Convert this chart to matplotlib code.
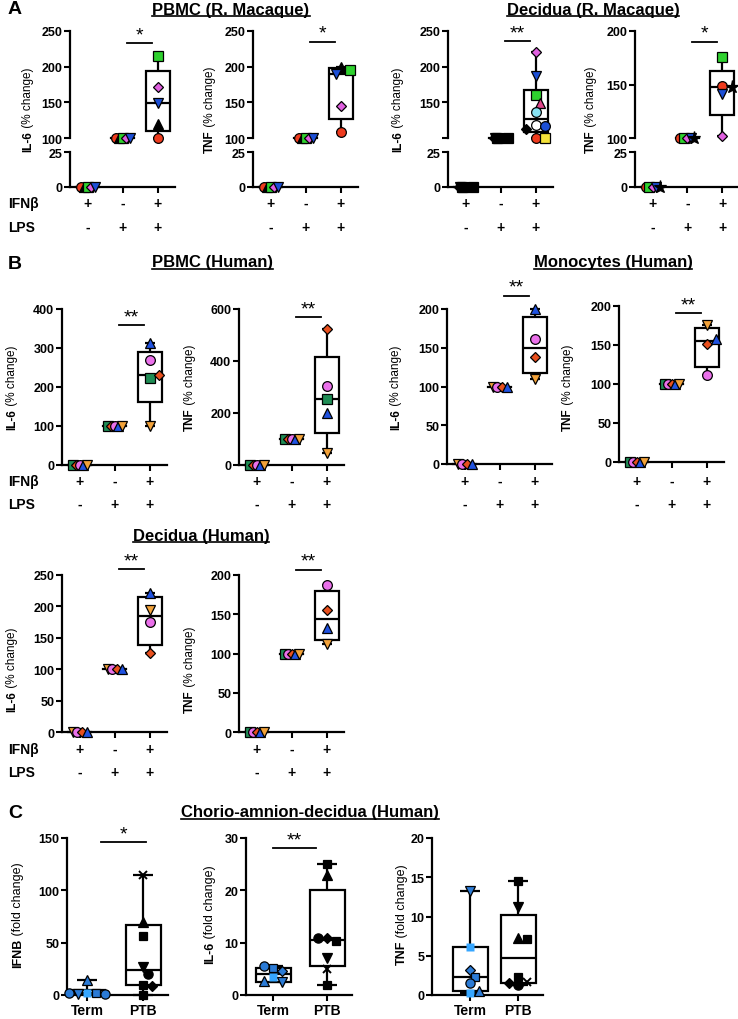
"""Cytokine response panels (IFNb / LPS), rebuilt with plain matplotlib."""
import numpy as np
import matplotlib

matplotlib.use("Agg")
import matplotlib.pyplot as plt  # noqa: E402
from matplotlib.lines import Line2D  # noqa: E402
from matplotlib.patches import Rectangle  # noqa: E402

plt.rcParams["font.family"] = ["Liberation Sans", "DejaVu Sans"]

W, H = 738, 1020
nan = np.nan

# ---------------------------------------------------------------- data
IFN_SIGNS = ["+", "-", "+"]
LPS_SIGNS = ["-", "+", "+"]

# A: rhesus macaque (% change), groups = IFNb, LPS, IFNb+LPS
A_PBMC_DONORS = ["rc", "kt", "gs", "md", "bv"]
A_PBMC_IFN = [0, 0, 0, 0, 0]
A_PBMC_LPS = [100, 100, 100, 100, 100]
A_PBMC_IL6 = [100, 119, 215, 172, 149]
A_PBMC_TNF = [108, 200, 195, 145, 190]

A_DEC_IL6_DONORS = ["md", "bv", "gs", "pt", "cc", "wc", "bc", "kd", "rc", "ys"]
A_DEC_IL6_IFN = [0, 0, 0, 0, 0, 0, 0, 0, 0, 0]
A_DEC_IL6_LPS = [100, 100, 100, 100, 100, 100, 100, 100, 100, 100]
A_DEC_IL6 = [220, 187, 160, 149, 136, 118, 117, 112, 100, 100]

A_DEC_TNF_DONORS = ["rc", "gs", "md", "bv", "ks"]
A_DEC_TNF_IFN = [0, 0, 0, 0, 0]
A_DEC_TNF_LPS = [100, 100, 100, 100, 100]
A_DEC_TNF = [149, 176, 102, 141, 148]

# B: human (% change)
B_PBMC_DONORS = ["Gs", "Rd", "Mc", "Bt", "Ov"]
B_PBMC_IFN = [0, 0, 0, 0, 0]
B_PBMC_LPS = [100, 100, 100, 100, 100]
B_PBMC_IL6 = [223, 230, 270, 312, 100]
B_PBMC_TNF = [252, 522, 305, 200, 47]

B_MONO_IL6_DONORS = ["Ov", "Mc", "Rd", "Bt"]
B_MONO_IL6_IFN = [0, 0, 0, 0]
B_MONO_IL6_LPS = [100, 100, 100, 100]
B_MONO_IL6 = [110, 161, 138, 200]
B_MONO_TNF_DONORS = ["Gs", "Mc", "Rd", "Bt", "Ov"]
B_MONO_TNF_IFN = [0, 0, 0, 0, 0]
B_MONO_TNF_LPS = [100, 100, 100, 100, 100]
B_MONO_TNF = [nan, 112, 151, 158, 176]

B_DEC_IL6_DONORS = ["Ov", "Mc", "Rd", "Bt"]
B_DEC_IL6_IFN = [0, 0, 0, 0]
B_DEC_IL6_LPS = [100, 100, 100, 100]
B_DEC_IL6 = [195, 175, 126, 222]
B_DEC_TNF_DONORS = ["Gs", "Mc", "Rd", "Bt", "Ov"]
B_DEC_TNF_IFN = [0, 0, 0, 0, 0]
B_DEC_TNF_LPS = [100, 100, 100, 100, 100]
B_DEC_TNF = [nan, 187, 155, 133, 112]

# C: chorio-amnion-decidua (fold change), Term vs PTB
C_GROUPS = ["Term", "PTB"]
C_IFNB_TERM = [14, 2, 1.5, 0.5, 1, 2]
C_IFNB_TERM_KEYS = ["T^", "Ls", "Ts", "Tv", "To", "To"]
C_IFNB_PTB = [115, 70, 56, 27, 20, 10, 9, 0]
C_IFNB_PTB_KEYS = ["Kx", "K^", "Ks", "Kv", "Ko", "Ks", "KD", "Ks"]
C_IL6_TERM = [5.1, 3.4, 4.5, 2.5, 2.6, 5.6]
C_IL6_TERM_KEYS = ["Ts", "Ls", "TD", "Tv", "T^", "To"]
C_IL6_PTB = [25, 23, 10.9, 10.3, 10.8, 7, 5, 2]
C_IL6_PTB_KEYS = ["Ks", "K^", "KD", "Ks", "Ko", "Kv", "Kx", "Ks"]
C_TNF_TERM = [13.2, 6.1, 3.2, 2.3, 1.5, 0.3, 0.5]
C_TNF_TERM_KEYS = ["Tv", "Ls", "TD", "Ts", "To", "Ls", "T^"]
C_TNF_PTB = [14.5, 11.2, 7.2, 7.1, 2.3, 1.7, 1.3, 1.5]
C_TNF_PTB_KEYS = ["Ks", "Kv", "K^", "Ks", "Ks", "Kx", "Ko", "KD"]

# ---------------------------------------------------------------- styles
SIZE = {"o": 7, "s": 6.5, "D": 5.2, "^": 7.5, "v": 7.5, "*": 9.5, "x": 6}
STY = {
    "rc": ("o", "#ee3b1e"), "gs": ("s", "#2fd12f"), "md": ("D", "#e060e0"),
    "bv": ("v", "#1c4fd6"), "kt": ("^", "black"), "ks": ("*", "black"),
    "pt": ("^", "#e0458a"), "cc": ("o", "#88e4f4"), "wc": ("o", "white"),
    "bc": ("o", "#1c4fd6"), "kd": ("D", "black"), "ys": ("s", "#f4e23a"),
    "Gs": ("s", "#1f8d55"), "Rd": ("D", "#e8501e"), "Mc": ("o", "#ea70ea"),
    "Bt": ("^", "#2052e0"), "Ov": ("v", "#f2a23a"),
    "T^": ("^", "#2b7bd6"), "Ts": ("s", "#2b7bd6"), "Tv": ("v", "#2b7bd6"),
    "To": ("o", "#2b7bd6"), "TD": ("D", "#2b7bd6"), "Ls": ("s", "#36a6ff"),
    "Ks": ("s", "black"), "K^": ("^", "black"), "Kv": ("v", "black"),
    "Ko": ("o", "black"), "KD": ("D", "black"), "Kx": ("x", "black"),
}
LW = 1.6

fig = plt.figure(figsize=(W / 100, H / 100), dpi=100)
R = fig.canvas.get_renderer()


def add_ax(x0, x1, ytop, ybot):
    ax = fig.add_axes([x0 / W, 1 - ybot / H, (x1 - x0) / W, (ybot - ytop) / H])
    ax.patch.set_alpha(0)
    for s in ("top", "right"):
        ax.spines[s].set_visible(False)
    for s in ("left", "bottom"):
        ax.spines[s].set_linewidth(LW)
    ax.tick_params(length=4, width=1.5, labelsize=9, pad=1.5)
    return ax


def mark(ax, x, y, key, face=None, scale=1.0):
    m, fc = STY[key]
    ms = SIZE[m] * scale
    if m == "x":
        ax.plot([x], [y], ls="none", marker=m, ms=ms, mew=1.4, color="black",
                clip_on=False, zorder=6)
        return
    ec = "none" if key == "Ls" else "black"
    ax.plot([x], [y], ls="none", marker=m, ms=ms, mfc=face or fc, mec=ec,
            mew=0.9, clip_on=False, zorder=6)


def swarm(vals, ppy, diam):
    """x offsets (px) so that markers do not sit on top of each other."""
    step = diam * 0.5
    cands = [0.0]
    for i in range(1, 15):
        cands += [i * step, -i * step]
    placed, offs = [], []
    for v in vals:
        y = v * ppy
        for c in cands:
            if all((c - a) ** 2 + (y - b) ** 2 >= (0.85 * diam) ** 2 for a, b in placed):
                break
        placed.append((c, y))
        offs.append(c)
    return offs


def box(ax, x, vals, bw, capw):
    v = np.array([a for a in vals if not np.isnan(a)], dtype=float)
    q1, med, q3 = np.percentile(v, [25, 50, 75], method="weibull")
    lo, hi = v.min(), v.max()
    kw = dict(color="black", lw=LW, clip_on=False, solid_capstyle="butt")
    ax.add_patch(Rectangle((x - bw / 2, q1), bw, q3 - q1, fc="white", ec="black",
                           lw=LW, zorder=2, clip_on=False))
    ax.plot([x - bw / 2, x + bw / 2], [med, med], zorder=3, **kw)
    ax.plot([x, x], [q3, hi], zorder=1.5, **kw)
    ax.plot([x, x], [lo, q1], zorder=1.5, **kw)
    ax.plot([x - capw / 2, x + capw / 2], [hi, hi], zorder=1.5, **kw)
    ax.plot([x - capw / 2, x + capw / 2], [lo, lo], zorder=1.5, **kw)


def sig_bar(ax, xa, xb, y, text):
    ax.plot([xa, xb], [y, y], color="black", lw=1.3, clip_on=False)
    ax.annotate(text, ((xa + xb) / 2, y), xytext=(0, 0), textcoords="offset points",
                ha="center", va="bottom", fontsize=14, annotation_clip=False)


def dose_panel(x0, x1, segs, donors, ifn, lps, both, star, star_y, black_ctrl=False):
    axes = []
    for i, (yt, yb, lim, ticks, labs) in enumerate(segs):
        ax = add_ax(x0, x1, yt, yb)
        ax.set_xlim(0.5, 3.5)
        ax.set_ylim(lim)
        ax.set_yticks(ticks)
        ax.set_yticklabels(labs if labs else [str(t) for t in ticks], fontweight="bold")
        if i < len(segs) - 1:
            ax.spines["bottom"].set_visible(False)
            ax.set_xticks([])
        else:
            ax.set_xticks([1, 2, 3])
            ax.set_xticklabels([])
        axes.append(ax)

    def ax_for(v):
        for a in axes:
            lo, hi = a.get_ylim()
            if lo <= v <= hi:
                return a
        return axes[-1]

    ppu = (x1 - x0) / 3
    for g, vals in ((1, ifn), (2, lps)):
        n = len(vals)
        offs = np.linspace(-7, 7, n) / ppu
        med = np.median(vals)
        a = ax_for(med)
        a.plot([g - 0.33, g + 0.33], [med, med], color="black", lw=LW, zorder=3,
               clip_on=False)
        for k, v, o in zip(donors, vals, offs):
            mark(ax_for(v), g + o, v, k, face="black" if black_ctrl else None)

    top = ax_for(np.nanmedian(both))
    box(top, 3, both, 24 / ppu, 10 / ppu)
    hpx = top.get_position().height * H
    lo, hi = top.get_ylim()
    keep = [(k, v) for k, v in zip(donors, both) if not np.isnan(v)]
    offs = swarm([v for _, v in keep], hpx / (hi - lo), 9.5)
    for (k, v), o in zip(keep, offs):
        mark(top, 3 + o / ppu, v, k)
    sig_bar(axes[0], 2.12, 2.85, star_y, star)
    return axes


def ylabel(xc, yc, bold, rest, size=8.5):
    t1 = fig.text(0, 0, bold, rotation=90, rotation_mode="anchor", ha="left",
                  va="center", fontsize=size, fontweight="bold")
    t2 = fig.text(0, 0, rest, rotation=90, rotation_mode="anchor", ha="left",
                  va="center", fontsize=size)
    h1 = t1.get_window_extent(R).height
    h2 = t2.get_window_extent(R).height
    start = (H - yc) - (h1 + h2) / 2
    t1.set_position((xc / W, start / H))
    t2.set_position((xc / W, (start + h1) / H))


def title(xc, yc, s, size=12):
    t = fig.text(xc / W, 1 - yc / H, s, ha="center", va="center", fontsize=size,
                 fontweight="bold")
    bb = t.get_window_extent(R)
    fig.add_artist(Line2D([bb.x0 / W, bb.x1 / W], [(bb.y0 + 0.5) / H] * 2,
                          color="black", lw=1.2))


def pm_rows(x0, x1, y_ifn, y_lps, row_labels=False):
    ppu = (x1 - x0) / 3
    for g in range(3):
        xp = x0 + (g + 0.5) * ppu
        fig.text(xp / W, 1 - y_ifn / H, IFN_SIGNS[g], ha="center", va="center",
                 fontsize=10, fontweight="bold")
        fig.text(xp / W, 1 - y_lps / H, LPS_SIGNS[g], ha="center", va="center",
                 fontsize=10, fontweight="bold")
    if row_labels:
        fig.text(8 / W, 1 - y_ifn / H, "IFNβ", ha="left", va="center",
                 fontsize=10, fontweight="bold")
        fig.text(8 / W, 1 - y_lps / H, "LPS", ha="left", va="center",
                 fontsize=10, fontweight="bold")


def letter(x, y, s):
    fig.text(x / W, 1 - y / H, s, ha="left", va="center", fontsize=14,
             fontweight="bold")


# ---------------------------------------------------------------- panel A
A_T, A_B = (32, 139), (153, 188)
bot = (A_B[0], A_B[1], (0, 25), [0, 25], None)
dose_panel(70, 175, [(A_T[0], A_T[1], (100, 250), [100, 150, 200, 250], None), bot],
           A_PBMC_DONORS, A_PBMC_IFN, A_PBMC_LPS, A_PBMC_IL6, "*", 233)
dose_panel(253, 358, [(A_T[0], A_T[1], (100, 250), [100, 150, 200, 250], None), bot],
           A_PBMC_DONORS, A_PBMC_IFN, A_PBMC_LPS, A_PBMC_TNF, "*", 235)
dose_panel(448, 553, [(A_T[0], A_T[1], (100, 250), [100, 150, 200, 250],
                       ["", "150", "200", "250"]), bot],
           A_DEC_IL6_DONORS, A_DEC_IL6_IFN, A_DEC_IL6_LPS, A_DEC_IL6, "**", 236,
           black_ctrl=True)
dose_panel(635, 740, [(A_T[0], A_T[1], (100, 200), [100, 150, 200], None), bot],
           A_DEC_TNF_DONORS, A_DEC_TNF_IFN, A_DEC_TNF_LPS, A_DEC_TNF, "*", 190)
for x0, lab in ((70, True), (253, False), (448, False), (635, False)):
    pm_rows(x0, x0 + 105, 204, 228, lab)
ylabel(28, 110, "IL-6", " (% change)")
ylabel(210, 110, "TNF", " (% change)")
ylabel(398, 110, "IL-6", " (% change)")
ylabel(591, 110, "TNF", " (% change)")
letter(8, 10, "A")
title(231, 10, "PBMC (R. Macaque)")
title(593, 10, "Decidua (R. Macaque)")

# ---------------------------------------------------------------- panel B
dose_panel(62, 167, [(310, 466, (0, 400), [0, 100, 200, 300, 400], None)],
           B_PBMC_DONORS, B_PBMC_IFN, B_PBMC_LPS, B_PBMC_IL6, "**", 359)
dose_panel(239, 344, [(310, 466, (0, 600), [0, 200, 400, 600], None)],
           B_PBMC_DONORS, B_PBMC_IFN, B_PBMC_LPS, B_PBMC_TNF, "**", 569)
dose_panel(447, 552, [(310, 465, (0, 200), [0, 50, 100, 150, 200], None)],
           B_MONO_IL6_DONORS, B_MONO_IL6_IFN, B_MONO_IL6_LPS, B_MONO_IL6, "**", 217)
dose_panel(619, 724, [(307, 463, (0, 200), [0, 50, 100, 150, 200], None)],
           B_MONO_TNF_DONORS, B_MONO_TNF_IFN, B_MONO_TNF_LPS, B_MONO_TNF, "**", 191)
dose_panel(62, 167, [(576, 733, (0, 250), [0, 50, 100, 150, 200, 250], None)],
           B_DEC_IL6_DONORS, B_DEC_IL6_IFN, B_DEC_IL6_LPS, B_DEC_IL6, "**", 259)
dose_panel(239, 344, [(576, 733, (0, 200), [0, 50, 100, 150, 200], None)],
           B_DEC_TNF_DONORS, B_DEC_TNF_IFN, B_DEC_TNF_LPS, B_DEC_TNF, "**", 207)
pm_rows(62, 167, 482, 505, True)
pm_rows(239, 344, 482, 505)
pm_rows(447, 552, 482, 505)
pm_rows(619, 724, 482, 505)
pm_rows(62, 167, 750, 773, True)
pm_rows(239, 344, 750, 773)
ylabel(12, 388, "IL-6", " (% change)")
ylabel(190, 388, "TNF", " (% change)")
ylabel(396, 388, "IL-6", " (% change)")
ylabel(568, 388, "TNF", " (% change)")
ylabel(12, 670, "IL-6", " (% change)")
ylabel(190, 670, "TNF", " (% change)")
letter(8, 265, "B")
title(212, 263, "PBMC (Human)")
title(613, 263, "Monocytes (Human)")
title(201, 536, "Decidua (Human)")


# ---------------------------------------------------------------- panel C
def term_ptb(xaxis, xterm, xptb, xright, ymax, ystep, term, tkeys, ptb, pkeys,
             star=None, star_x=None, star_y=None):
    ppu = xptb - xterm
    ax = add_ax(xaxis, xright, 839, 996)
    ax.set_xlim(1 - (xterm - xaxis) / ppu, 2 + (xright - xptb) / ppu)
    ax.set_ylim(0, ymax)
    ticks = np.arange(0, ymax + 1, ystep)
    ax.set_yticks(ticks)
    ax.set_yticklabels([f"{t:g}" for t in ticks], fontweight="bold")
    ax.set_xticks([1, 2])
    ax.set_xticklabels(C_GROUPS, fontweight="bold", fontsize=10)
    ppy = 157 / ymax
    for g, vals, keys in ((1, term, tkeys), (2, ptb, pkeys)):
        box(ax, g, vals, 35 / ppu, 20 / ppu)
        offs = swarm(vals, ppy, 9)
        for k, v, o in zip(keys, vals, offs):
            mark(ax, g + o / ppu, v, k, scale=0.95)
    if star:
        sig_bar(ax, star_x[0], star_x[1], star_y, star)
    return ax


term_ptb(67, 87, 143, 168, 150, 50, C_IFNB_TERM, C_IFNB_TERM_KEYS, C_IFNB_PTB,
         C_IFNB_PTB_KEYS, "*", (1.25, 2.05), 146)
term_ptb(246, 273, 327, 352, 30, 10, C_IL6_TERM, C_IL6_TERM_KEYS, C_IL6_PTB,
         C_IL6_PTB_KEYS, "**", (1.0, 1.8), 28)
term_ptb(432, 470, 518, 543, 20, 5, C_TNF_TERM, C_TNF_TERM_KEYS, C_TNF_PTB,
         C_TNF_PTB_KEYS)
ylabel(18, 915, "IFNB", " (fold change)", size=9)
ylabel(210, 915, "IL-6", " (fold change)", size=9)
ylabel(402, 915, "TNF", " (fold change)", size=9)
letter(8, 813, "C")
title(310, 813, "Chorio-amnion-decidua (Human)")

fig.savefig("out.png", dpi=100)
